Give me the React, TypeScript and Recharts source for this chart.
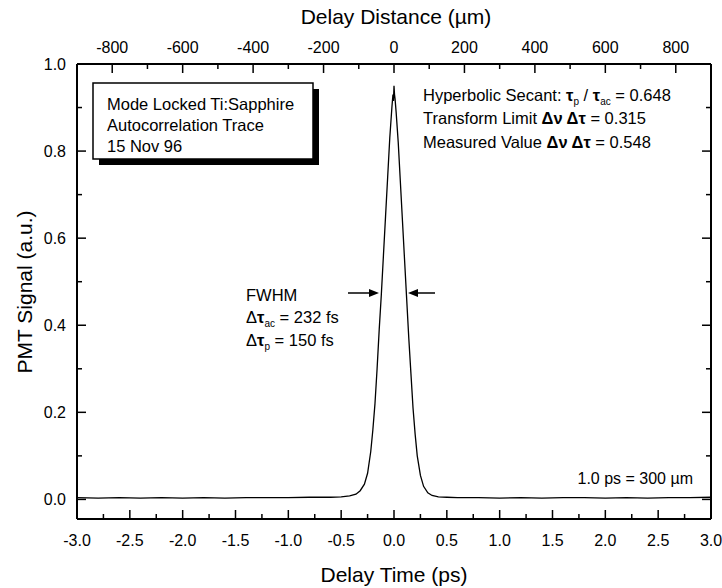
import React from 'react';
import { LineChart, Line, XAxis, YAxis } from 'recharts';

const W = 722;
const H = 588;
const FONT = '"Liberation Sans", Arial, Helvetica, sans-serif';

// autocorrelation trace (delay in ps, signal in a.u.)
const delayPs = [
  -3.0, -2.8, -2.6, -2.4, -2.2, -2.0, -1.8, -1.6, -1.4, -1.2, -1.0, -0.8, -0.6, -0.5,
  -0.42, -0.36, -0.32, -0.28, -0.25, -0.22, -0.2, -0.18, -0.16, -0.14, -0.12, -0.1,
  -0.08, -0.06, -0.04, -0.02, -0.01, -0.005, 0.0, 0.005, 0.01, 0.02, 0.04, 0.06, 0.08,
  0.1, 0.12, 0.14, 0.16, 0.18, 0.2, 0.22, 0.25, 0.28, 0.32, 0.36, 0.42, 0.5, 0.6, 0.8,
  1.0, 1.2, 1.4, 1.6, 1.8, 2.0, 2.2, 2.4, 2.6, 2.8, 3.0,
];
const pmtSignal = [
  0.004, 0.003, 0.004, 0.003, 0.004, 0.003, 0.004, 0.003, 0.004, 0.004, 0.004, 0.005, 0.005, 0.006,
  0.008, 0.012, 0.02, 0.035, 0.06, 0.11, 0.16, 0.22, 0.3, 0.39, 0.47, 0.56,
  0.65, 0.74, 0.83, 0.9, 0.93, 0.915, 0.95, 0.93, 0.92, 0.89, 0.82, 0.73, 0.64,
  0.55, 0.46, 0.37, 0.29, 0.21, 0.15, 0.1, 0.055, 0.03, 0.015, 0.009, 0.006, 0.005, 0.004, 0.004,
  0.003, 0.004, 0.003, 0.004, 0.004, 0.003, 0.004, 0.003, 0.004, 0.004, 0.005,
];

// axis ticks
const timeMajor = [-3.0, -2.5, -2.0, -1.5, -1.0, -0.5, 0.0, 0.5, 1.0, 1.5, 2.0, 2.5, 3.0];
const timeMinor = [-2.75, -2.25, -1.75, -1.25, -0.75, -0.25, 0.25, 0.75, 1.25, 1.75, 2.25, 2.75];
const distMajor = [-800, -600, -400, -200, 0, 200, 400, 600, 800];
const distMinor = [-700, -500, -300, -100, 100, 300, 500, 700];
const signalMajor = [0.0, 0.2, 0.4, 0.6, 0.8, 1.0];
const signalMinor = [0.1, 0.3, 0.5, 0.7, 0.9];

const data = delayPs.map((t, i) => ({ t, um: t * 300, v: pmtSignal[i] }));

const sorted = (a: number[], b: number[]) => [...a, ...b].sort((p, q) => p - q);

const makeTick = (side: string, majors: number[], fmt?: (v: number) => string) => (props: any) => {
  const { x, y, payload } = props;
  const v = payload.value;
  const major = majors.some((m) => Math.abs(m - v) < 1e-6);
  const len = major ? 9 : 5;
  let line = [x, y, x, y];
  let lx = x;
  let ly = y;
  let anchor = 'middle';
  if (side === 'bottom') { line = [x, y, x, y - len]; ly = y + 27; }
  if (side === 'top') { line = [x, y, x, y + len]; ly = y - 11; }
  if (side === 'left') { line = [x, y, x + len, y]; lx = x - 11; ly = y + 6; anchor = 'end'; }
  if (side === 'right') { line = [x, y, x - len, y]; }
  return (
    <g>
      <line x1={line[0]} y1={line[1]} x2={line[2]} y2={line[3]} stroke="#000" strokeWidth={1.5} />
      {major && fmt && (
        <text x={lx} y={ly} textAnchor={anchor} fontFamily={FONT} fontSize={16} fill="#000">
          {fmt(v)}
        </text>
      )}
    </g>
  );
};

const frame = { stroke: '#000', strokeWidth: 2 };

// subscript followed by the rest of the line back on the baseline
const Sub = ({ s, rest }: { s: string; rest: string }) => (
  <>
    <tspan dy={4} fontSize={10}>{s}</tspan>
    <tspan dy={-4}>{rest}</tspan>
  </>
);

export default function App() {
  return (
    <div style={{ position: 'absolute', left: 0, top: 0, width: W, height: H, background: '#fff' }}>
      <LineChart width={W} height={H} data={data} margin={{ top: 0, right: 0, bottom: 0, left: 17 }}>
        <XAxis
          dataKey="t"
          type="number"
          domain={[-3, 3]}
          allowDataOverflow
          ticks={sorted(timeMajor, timeMinor)}
          interval={0}
          height={69}
          axisLine={frame}
          tickLine={false}
          tickSize={0}
          tickMargin={0}
          tick={makeTick('bottom', timeMajor, (v) => v.toFixed(1))}
        />
        <XAxis
          xAxisId="top"
          orientation="top"
          dataKey="um"
          type="number"
          domain={[-900, 900]}
          allowDataOverflow
          ticks={sorted(distMajor, distMinor)}
          interval={0}
          height={64}
          axisLine={frame}
          tickLine={false}
          tickSize={0}
          tickMargin={0}
          tick={makeTick('top', distMajor, (v) => String(v))}
        />
        <YAxis
          type="number"
          domain={[-0.045, 1.0]}
          allowDataOverflow
          ticks={sorted(signalMajor, signalMinor)}
          interval={0}
          width={60}
          axisLine={frame}
          tickLine={false}
          tickSize={0}
          tickMargin={0}
          tick={makeTick('left', signalMajor, (v) => v.toFixed(1))}
        />
        <YAxis
          yAxisId="right"
          orientation="right"
          type="number"
          domain={[-0.045, 1.0]}
          allowDataOverflow
          ticks={sorted(signalMajor, signalMinor)}
          interval={0}
          width={11}
          axisLine={frame}
          tickLine={false}
          tickSize={0}
          tickMargin={0}
          tick={makeTick('right', signalMajor)}
        />
        <Line
          dataKey="v"
          type="linear"
          stroke="#000"
          strokeWidth={1.3}
          dot={false}
          isAnimationActive={false}
        />
      </LineChart>

      <svg width={W} height={H} style={{ position: 'absolute', left: 0, top: 0, pointerEvents: 'none' }}>
        <g fontFamily={FONT} fill="#000">
          {/* axis titles */}
          <text x={396} y={24} textAnchor="middle" fontSize={21}>Delay Distance (µm)</text>
          <text x={394} y={582} textAnchor="middle" fontSize={21}>Delay Time (ps)</text>
          <text x={32} y={292} textAnchor="middle" fontSize={21} transform="rotate(-90 32 292)">
            PMT Signal (a.u.)
          </text>

          {/* info box with drop shadow */}
          <rect x={99} y={89} width={220} height={76} fill="#000" />
          <rect x={93} y={83} width={220} height={76} fill="#fff" stroke="#000" strokeWidth={1.5} />
          <g fontSize={16.5}>
            <text x={107} y={110}>Mode Locked Ti:Sapphire</text>
            <text x={107} y={131}>Autocorrelation Trace</text>
            <text x={107} y={152}>15 Nov 96</text>
          </g>

          {/* pulse parameters */}
          <g fontSize={16.5}>
            <text x={423} y={101}>
              Hyperbolic Secant: <tspan fontWeight="bold">τ</tspan>
              <Sub s="p" rest=" / " />
              <tspan fontWeight="bold">τ</tspan>
              <Sub s="ac" rest=" = 0.648" />
            </text>
            <text x={423} y={124}>
              Transform Limit <tspan fontWeight="bold">Δν Δτ</tspan> = 0.315
            </text>
            <text x={423} y={148}>
              Measured Value <tspan fontWeight="bold">Δν Δτ</tspan> = 0.548
            </text>
          </g>

          {/* FWHM */}
          <g fontSize={16.5}>
            <text x={246} y={301}>FWHM</text>
            <text x={246} y={323}>
              Δ<tspan fontWeight="bold">τ</tspan>
              <Sub s="ac" rest=" = 232 fs" />
            </text>
            <text x={246} y={346}>
              Δ<tspan fontWeight="bold">τ</tspan>
              <Sub s="p" rest=" = 150 fs" />
            </text>
          </g>
          <line x1={348} y1={293} x2={372} y2={293} stroke="#000" strokeWidth={1.5} />
          <polygon points="379,293 369,289 369,297" />
          <line x1={435} y1={293} x2={415} y2={293} stroke="#000" strokeWidth={1.5} />
          <polygon points="408,293 418,289 418,297" />

          <text x={693} y={484} textAnchor="end" fontSize={16}>1.0 ps = 300 µm</text>
        </g>
      </svg>
    </div>
  );
}
